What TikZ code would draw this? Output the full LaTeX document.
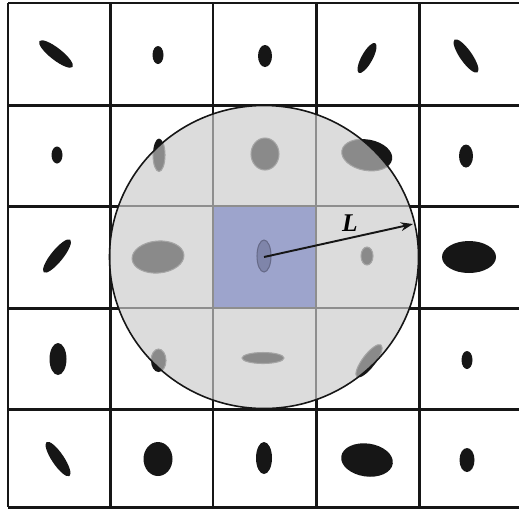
\documentclass[tikz,border=0pt]{standalone}
\usepackage{fontspec}
\setmainfont{Liberation Serif}
\usepackage{xcolor}
\usetikzlibrary{arrows.meta}
\definecolor{discgray}{RGB}{220,220,220}
\definecolor{linegray}{RGB}{142,142,142}
\definecolor{blobgray}{RGB}{138,138,138}
\definecolor{rimgray}{RGB}{165,165,165}
\definecolor{cellblue}{RGB}{157,164,204}
\definecolor{centerblob}{RGB}{127,133,170}
\definecolor{inkblack}{RGB}{22,22,22}

\begin{document}
\begin{tikzpicture}[x=0.02cm, y=-0.02cm,
    gridline/.style={line width=1.7pt, inkblack},
    innerline/.style={line width=1.1pt, linegray},
    blob/.style={fill=inkblack},
    grayblob/.style={fill=blobgray, draw=rimgray, line width=0.6pt}]
        \useasboundingbox (0,0) rectangle (519,508);
        % Black ellipses in every cell
        \foreach \cx/\cy/\rx/\ry/\ang in {
            56/54/21/6/-38, 158/55/5.5/9/0, 265/56/7/11/0, 367/58/17/5.5/61, 466/56/20/6/-55,
            57/155/5.5/8.5/0, 159/155/6/16.5/0, 265/154/14/16/0, 367/155/25.5/15.5/-10, 466/156/7/11.5/0,
            57/256/21/6/51, 158/257/26/16/5, 264/256/7/16/0, 367/256/6/9/0, 469/257/27/16/0,
            58/359/8.5/16/0, 158.5/360.5/7.5/11.5/0, 263/358/21/5.5/0, 369/361/20/6.5/53, 467/360/5.5/9/0,
            58/459/20.5/6/-56, 158/459/14.5/17/0, 264/458/8/16/0, 367/460/26/16.5/-8, 467/460/7.5/12/0}
          \fill[blob, rotate around={\ang:(\cx,\cy)}] (\cx,\cy) ellipse ({\rx} and {\ry});
        % Black grid
        \foreach \gx in {8, 110.5, 213, 316, 419}
          \draw[gridline] (\gx,3) -- (\gx,507);
        \foreach \gy in {3, 105.5, 206, 308, 409, 507}
          \draw[gridline] (8,\gy) -- (519,\gy);
        % Neighbourhood disc
        \fill[discgray] (264,257) ellipse (154.5 and 151.5);
        \begin{scope}
          \clip (264,257) ellipse (154.5 and 151.5);
          \fill[cellblue] (213,206) rectangle (316,308);
          \foreach \gx in {110.5, 213, 316, 419}
            \draw[innerline] (\gx,3) -- (\gx,507);
          \foreach \gy in {105.5, 206, 308, 409}
            \draw[innerline] (8,\gy) -- (519,\gy);
          \foreach \cx/\cy/\rx/\ry/\ang in {
              159/155/6/16.5/0, 265/154/14/16/0, 367/155/25.5/15.5/-10,
              158/257/26/16/5, 367/256/6/9/0,
              158.5/360.5/7.5/11.5/0, 263/358/21/5.5/0, 369/361/20/6.5/53}
            \filldraw[grayblob, rotate around={\ang:(\cx,\cy)}] (\cx,\cy) ellipse ({\rx} and {\ry});
          \filldraw[grayblob, fill=centerblob, draw=centerblob!80!black] (264,256) ellipse (7 and 16);
        \end{scope}
        \draw[line width=0.9pt, inkblack] (264,257) ellipse (154.5 and 151.5);
        % Radius
        \coordinate (ctr) at (264,257);
        \coordinate (rim) at (413,224);
        \draw[line width=1.1pt, inkblack, -{Stealth[length=7pt, width=5pt]}] (ctr) -- (rim);
        \node[font=\fontsize{14.5}{16}\selectfont\bfseries\itshape] (lbl) at (350,223) {L};
      \end{tikzpicture}
\end{document}
